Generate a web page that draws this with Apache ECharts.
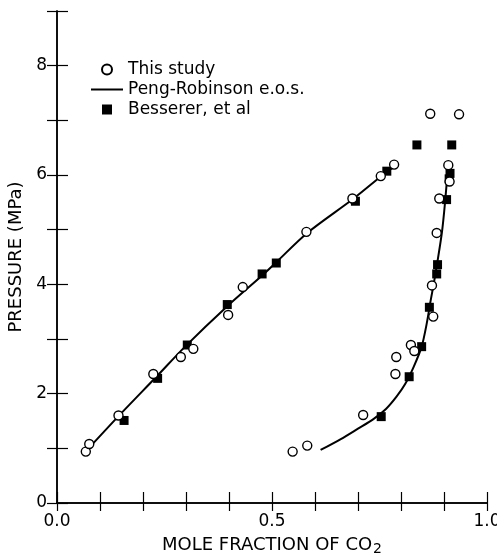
<!DOCTYPE html>
<html>
<head>
<meta charset="utf-8">
<script src="https://cdn.jsdelivr.net/npm/echarts@6/dist/echarts.min.js"></script>
<style>
  html, body { margin: 0; padding: 0; background: #fff; }
  #main { width: 497px; height: 554px; }
</style>
</head>
<body>
<div id="main"></div>
<script>
// this study (open circles): [mole fraction CO2, pressure MPa]
var studyLiquid = [
    [0.067, 0.94], [0.075, 1.08], [0.143, 1.60], [0.224, 2.36], [0.288, 2.67],
    [0.317, 2.82], [0.398, 3.44], [0.432, 3.95], [0.580, 4.96], [0.687, 5.57],
    [0.753, 5.98], [0.784, 6.19]
];
var studyVapor = [
    [0.548, 0.94], [0.582, 1.05], [0.712, 1.61], [0.787, 2.36], [0.789, 2.67],
    [0.823, 2.89], [0.831, 2.78], [0.875, 3.41], [0.872, 3.98], [0.883, 4.94],
    [0.889, 5.57], [0.913, 5.88], [0.910, 6.18], [0.868, 7.12], [0.935, 7.11]
];
// Besserer et al (filled squares)
var bessererLiquid = [
    [0.156, 1.51], [0.234, 2.28], [0.303, 2.89], [0.396, 3.63], [0.477, 4.19],
    [0.510, 4.39], [0.694, 5.52], [0.767, 6.07]
];
var bessererVapor = [
    [0.754, 1.58], [0.819, 2.31], [0.848, 2.86], [0.866, 3.58], [0.883, 4.19],
    [0.885, 4.36], [0.906, 5.55], [0.912, 5.93], [0.914, 6.03], [0.837, 6.55],
    [0.918, 6.55]
];
// Peng-Robinson e.o.s. curves
var prLiquid = [
    [0.070, 0.97], [0.148, 1.63], [0.230, 2.30], [0.299, 2.87], [0.396, 3.60],
    [0.481, 4.19], [0.508, 4.39], [0.582, 4.94], [0.690, 5.57], [0.756, 5.99],
    [0.780, 6.13]
];
var prVapor = [
    [0.613, 0.97], [0.660, 1.17], [0.700, 1.36], [0.735, 1.53], [0.765, 1.72],
    [0.790, 1.95], [0.810, 2.18], [0.830, 2.50], [0.848, 2.86], [0.860, 3.29],
    [0.868, 3.66], [0.879, 4.14], [0.895, 4.94], [0.903, 5.55], [0.910, 6.22]
];

var myChart = echarts.init(document.getElementById('main'));
var font = 'DejaVu Sans';

function fmtX(v) {
    var t = Math.round(v * 10);
    return t % 5 === 0 ? (t / 10).toFixed(1) : '';
}

var option = {
    animation: false,
    backgroundColor: '#fff',
    textStyle: { fontFamily: font, color: '#000' },
    grid: { left: 57, right: 10, top: 11, bottom: 51, outerBoundsMode: 'none' },
    legend: {
        orient: 'vertical',
        left: 86,
        top: 56,
        itemWidth: 32,
        itemHeight: 10,
        itemGap: 3,
        textStyle: { fontSize: 17, fontFamily: font, color: '#000' },
        data: [
            { name: 'This study', icon: 'circle' },
            { name: 'Peng-Robinson e.o.s.', icon: 'path://M0,0 L32,0 L32,2 L0,2 Z' },
            { name: 'Besserer, et al', icon: 'path://M0,0 L10,0 L10,10 L0,10 Z' }
        ]
    },
    xAxis: [{
        type: 'value', min: 0, max: 1, interval: 0.1,
        name: 'MOLE FRACTION OF CO{sub|2}',
        nameLocation: 'middle', nameGap: 32,
        nameTextStyle: {
            fontSize: 18, fontFamily: font, color: '#000',
            rich: { sub: { fontSize: 14, fontFamily: font, verticalAlign: 'bottom', padding: [7, 0, 0, 1] } }
        },
        axisLine: { lineStyle: { color: '#000', width: 1.5 } },
        axisTick: { inside: true, length: 11, lineStyle: { color: '#000', width: 1.2 } },
        axisLabel: { formatter: fmtX, fontSize: 17, color: '#000', margin: 10, showMinLabel: true, showMaxLabel: true },
        splitLine: { show: false }
    }, {
        type: 'value', min: 0, max: 1, interval: 0.1, position: 'top',
        axisLine: { show: true, lineStyle: { color: '#000', width: 1.5 } },
        axisTick: { inside: true, length: 8, lineStyle: { color: '#000', width: 1.2 } },
        axisLabel: { show: false },
        splitLine: { show: false }
    }],
    yAxis: [{
        type: 'value', min: 0, max: 9, interval: 1,
        name: 'PRESSURE (MPa)',
        nameLocation: 'middle', nameGap: 28,
        nameTextStyle: { fontSize: 18, fontFamily: font, color: '#000' },
        axisLine: { show: true, lineStyle: { color: '#000', width: 1.5 } },
        axisTick: { inside: true, length: 11, lineStyle: { color: '#000', width: 1.2 } },
        axisLabel: {
            fontSize: 17, color: '#000', margin: 10,
            formatter: function (v) { return (v % 2 === 0 && v < 9) ? String(v) : ''; }
        },
        splitLine: { show: false }
    }, {
        type: 'value', min: 0, max: 9, interval: 1, position: 'right',
        axisLine: { show: true, lineStyle: { color: '#000', width: 1.5 } },
        axisTick: { inside: true, length: 10, lineStyle: { color: '#000', width: 1.2 } },
        axisLabel: { show: false },
        splitLine: { show: false }
    }],
    series: [
        {
            name: 'Peng-Robinson e.o.s.', type: 'line', data: prLiquid, smooth: 0.3,
            symbol: 'none', lineStyle: { color: '#000', width: 2 }, itemStyle: { color: '#000' }, z: 1
        },
        {
            name: 'Peng-Robinson e.o.s.', type: 'line', data: prVapor, smooth: 0.3,
            symbol: 'none', lineStyle: { color: '#000', width: 2 }, itemStyle: { color: '#000' }, z: 1
        },
        {
            name: 'Besserer, et al', type: 'scatter', data: bessererLiquid.concat(bessererVapor),
            symbol: 'rect', symbolSize: 9, itemStyle: { color: '#000', opacity: 1 }, z: 2
        },
        {
            name: 'This study', type: 'scatter', data: studyLiquid.concat(studyVapor),
            symbol: 'circle', symbolSize: 9,
            itemStyle: { color: '#fff', borderColor: '#000', borderWidth: 1.4, opacity: 1 }, z: 3
        }
    ]
};
myChart.setOption(option);
</script>
</body>
</html>
